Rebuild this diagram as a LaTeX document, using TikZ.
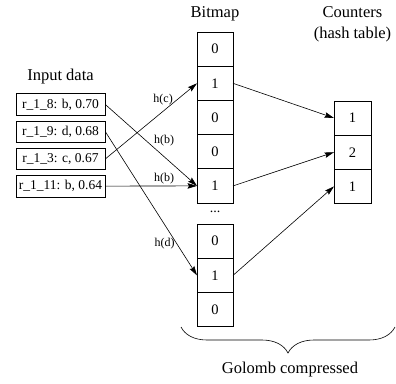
\documentclass[tikz,border=0pt]{standalone}
\usepackage{fontspec}
\setmainfont{Liberation Serif}
\usetikzlibrary{arrows.meta,positioning,decorations.pathreplacing}

\begin{document}
\begin{tikzpicture}[x=1pt,y=-1pt,
  title/.style={font=\fontsize{16.5}{21}\selectfont,align=center},
  cell/.style={draw,line width=0.7pt,outer sep=0pt,minimum width=36pt,
    minimum height=34.2pt,font=\fontsize{14.5}{17}\selectfont},
  rec/.style={draw,line width=0.7pt,minimum width=89pt,minimum height=21.5pt,
    inner sep=1pt,font=\fontsize{13.5}{15}\selectfont},
  lbl/.style={font=\fontsize{12}{14}\selectfont,inner sep=2pt},
  arr/.style={-{Stealth[length=9.5pt,width=5.5pt,inset=1.5pt]},line width=0.6pt}]
  \useasboundingbox (0,0) rectangle (396,383);
  % headings
  \node[title] (intitle) at (60.5,77) {Input data};
  \node[title] (bmtitle) at (215,14) {Bitmap};
  \node[title] (cnttitle) at (352.5,24) {Counters\\(hash table)};
  % input records
  \node[rec] (r1) at (60.5,104.5) {r\_1\_8: b, 0.70};
  \node[rec,below=5pt of r1] (r2) {r\_1\_9: d, 0.68};
  \node[rec,below=5pt of r2] (r3) {r\_1\_3: c, 0.67};
  \node[rec,below=5pt of r3] (r4) {r\_1\_11: b, 0.64};
  % bitmap
  \node[cell] (b1) at (215,49.1) {0};
  \node[cell,below=0pt of b1] (b2) {1};
  \node[cell,below=0pt of b2] (b3) {0};
  \node[cell,below=0pt of b3] (b4) {0};
  \node[cell,below=0pt of b4] (b5) {1};
  \node[lbl,font=\fontsize{14}{16}\selectfont] (gap) at (215,212) {...};
  \node[cell] (b6) at (215,241.2) {0};
  \node[cell,below=0pt of b6] (b7) {1};
  \node[cell,below=0pt of b7] (b8) {0};
  % counters
  \node[cell,minimum width=37pt] (c1) at (352.5,118) {1};
  \node[cell,minimum width=37pt,below=0pt of c1] (c2) {2};
  \node[cell,minimum width=37pt,below=0pt of c2] (c3) {1};
  % hashing
  \draw[arr] (r1.east) -- node[lbl,pos=0.64,above=8pt] {h(b)} (b5.west);
  \draw[arr] (r2.east) -- node[lbl,pos=0.78,left=0pt] {h(d)} (b7.west);
  \draw[arr] (r3.east) -- node[lbl,pos=0.63,above=3.5pt] {h(c)} (b2.west);
  \draw[arr] (r4.east) -- node[lbl,pos=0.64,above=0pt] {h(b)} (b5.west);
  \draw[arr] (b2.east) -- (c1.west);
  \draw[arr] (b5.east) -- (c2.west);
  \draw[arr] (b7.east) -- (c3.west);
  % brace
  \coordinate (brl) at (181,327);
  \coordinate (brr) at (395,327);
  \draw[line width=0.6pt,decorate,decoration={brace,mirror,amplitude=26pt}] (brl) -- (brr);
  \node[title] (golomb) at (290,370) {Golomb compressed};
\end{tikzpicture}
\end{document}
